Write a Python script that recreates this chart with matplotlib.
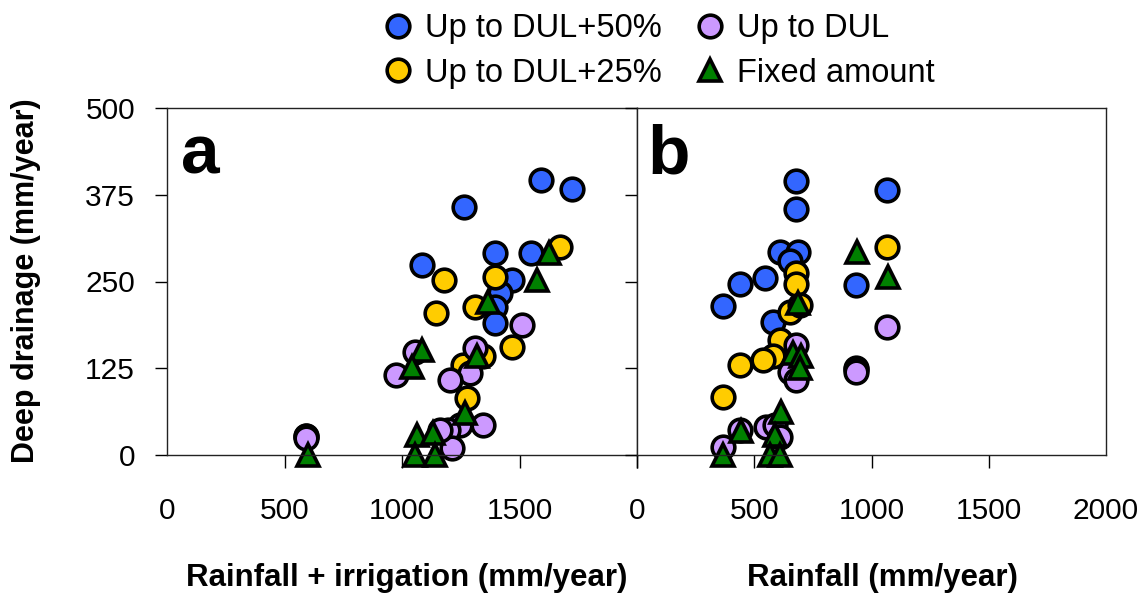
import matplotlib
matplotlib.use("Agg")
import matplotlib.pyplot as plt
from matplotlib.lines import Line2D

plt.rcParams['font.family'] = ['Liberation Sans', 'DejaVu Sans']

# ---- data: panel a (rainfall + irrigation) ----
a_blue_x = [1591, 1723, 1264, 1396, 1549, 1085, 1468, 1417, 1396, 1396, 591]
a_blue_y = [396, 383, 357, 291, 291, 274, 252, 233, 213, 190, 28]
a_yel_x = [1672, 1179, 1396, 1145, 1311, 1468, 1346, 1261, 1278, 591]
a_yel_y = [300, 252, 256, 205, 213, 156, 142, 130, 82, 27]
a_pur_x = [1055, 974, 1311, 1289, 1204, 1346, 1247, 1197, 1211, 1162, 1509, 591]
a_pur_y = [149, 115, 154, 118, 108, 43, 43, 36, 10, 36, 187, 24]
a_grn_x = [601, 1084, 1044, 1318, 1268, 1062, 1133, 1055, 1140, 1366, 1574, 1626]
a_grn_y = [0, 151, 127, 142, 60, 29, 31, 0, 0, 221, 252, 291]

# ---- data: panel b (rainfall) ----
b_blue_x = [609, 686, 651, 545, 438, 367, 580, 680, 1065, 680, 935, 935]
b_blue_y = [293, 293, 279, 255, 247, 215, 192, 395, 382, 354, 245, 126]
b_yel_x = [680, 680, 651, 694, 609, 580, 537, 438, 367, 1065, 935]
b_yel_y = [262, 247, 206, 216, 166, 142, 137, 130, 84, 300, 124]
b_pur_x = [680, 651, 680, 438, 367, 552, 587, 609, 1065, 935]
b_pur_y = [158, 120, 108, 36, 12, 41, 43, 26, 185, 120]
b_grn_x = [686, 665, 701, 694, 616, 587, 445, 367, 566, 609, 938, 1069]
b_grn_y = [219, 147, 142, 125, 62, 29, 34, 0, 0, 0, 293, 256]

labels = ['Up to DUL+50%', 'Up to DUL+25%', 'Up to DUL', 'Fixed amount']
colors = ['#3366FF', '#FFCC00', '#CC99FF', '#008000']
markers = ['o', 'o', 'o', '^']

yticks = [0, 125, 250, 375, 500]
xticks = [0, 500, 1000, 1500, 2000]

fig = plt.figure(figsize=(11.45, 5.95), dpi=100)
L, R, B, T = 167/1145, 637/1145, 1 - 455/595, 1 - 108/595
W = R - L
axa = fig.add_axes([L, B, W, T - B])
axb = fig.add_axes([R, B, (1106/1145) - R, T - B])

MS = 16.3
EW = 2.6

def draw(ax, series):
    for (xs, ys), c, m in zip(series, colors, markers):
        ax.plot(xs, ys, linestyle='none', marker=m, markersize=MS,
                markerfacecolor=c, markeredgecolor='black', markeredgewidth=EW,
                clip_on=False)

draw(axa, [(a_blue_x, a_blue_y), (a_yel_x, a_yel_y), (a_pur_x, a_pur_y), (a_grn_x, a_grn_y)])
draw(axb, [(b_blue_x, b_blue_y), (b_yel_x, b_yel_y), (b_pur_x, b_pur_y), (b_grn_x, b_grn_y)])

for ax in (axa, axb):
    ax.set_xlim(0, 2000)
    ax.set_ylim(0, 500)
    ax.set_yticks(yticks)
    ax.set_xticks(xticks)
    for s in ax.spines.values():
        s.set_linewidth(1.0)
        s.set_color('#222222')
    ax.tick_params(axis='both', direction='out', length=9, width=1.0,
                   labelsize=21.5, colors='black')
    ax.tick_params(axis='x', pad=21)
    ax.tick_params(axis='y', pad=14)

axa.set_yticklabels([str(v) for v in yticks])
axb.set_yticklabels([])
axa.set_xticklabels(['0', '500', '1000', '1500', ''])
axb.set_xticklabels([str(v) for v in xticks])
axa.xaxis.get_major_ticks()[0].tick1line.set_visible(False)
axb.xaxis.get_major_ticks()[-1].tick1line.set_visible(False)

axa.text(0.03, 0.81, 'a', transform=axa.transAxes, fontsize=50,
         fontweight='bold', va='baseline', ha='left')
axb.text(0.023, 0.81, 'b', transform=axb.transAxes, fontsize=50,
         fontweight='bold', va='baseline', ha='left')

fig.text(407/1145, 1 - 578/595, 'Rainfall + irrigation (mm/year)',
         fontsize=22.5, fontweight='bold', ha='center', va='center')
fig.text(882/1145, 1 - 578/595, 'Rainfall (mm/year)',
         fontsize=22.5, fontweight='bold', ha='center', va='center')
fig.text(26/1145, 1 - 281/595, 'Deep drainage (mm/year)', rotation=90,
         fontsize=22, fontweight='bold', ha='center', va='center')

handles = [Line2D([], [], linestyle='none', marker=m, markersize=MS,
                  markerfacecolor=c, markeredgecolor='black', markeredgewidth=EW)
           for c, m in zip(colors, markers)]
fig.legend(handles, labels, ncol=2, loc='upper left',
           bbox_to_anchor=(384/1145, 0.978), frameon=False, fontsize=23.5,
           handlelength=0.85, handletextpad=0.4, columnspacing=1.05,
           labelspacing=0.42, borderpad=0, borderaxespad=0)

fig.savefig('out.png', dpi=100)
